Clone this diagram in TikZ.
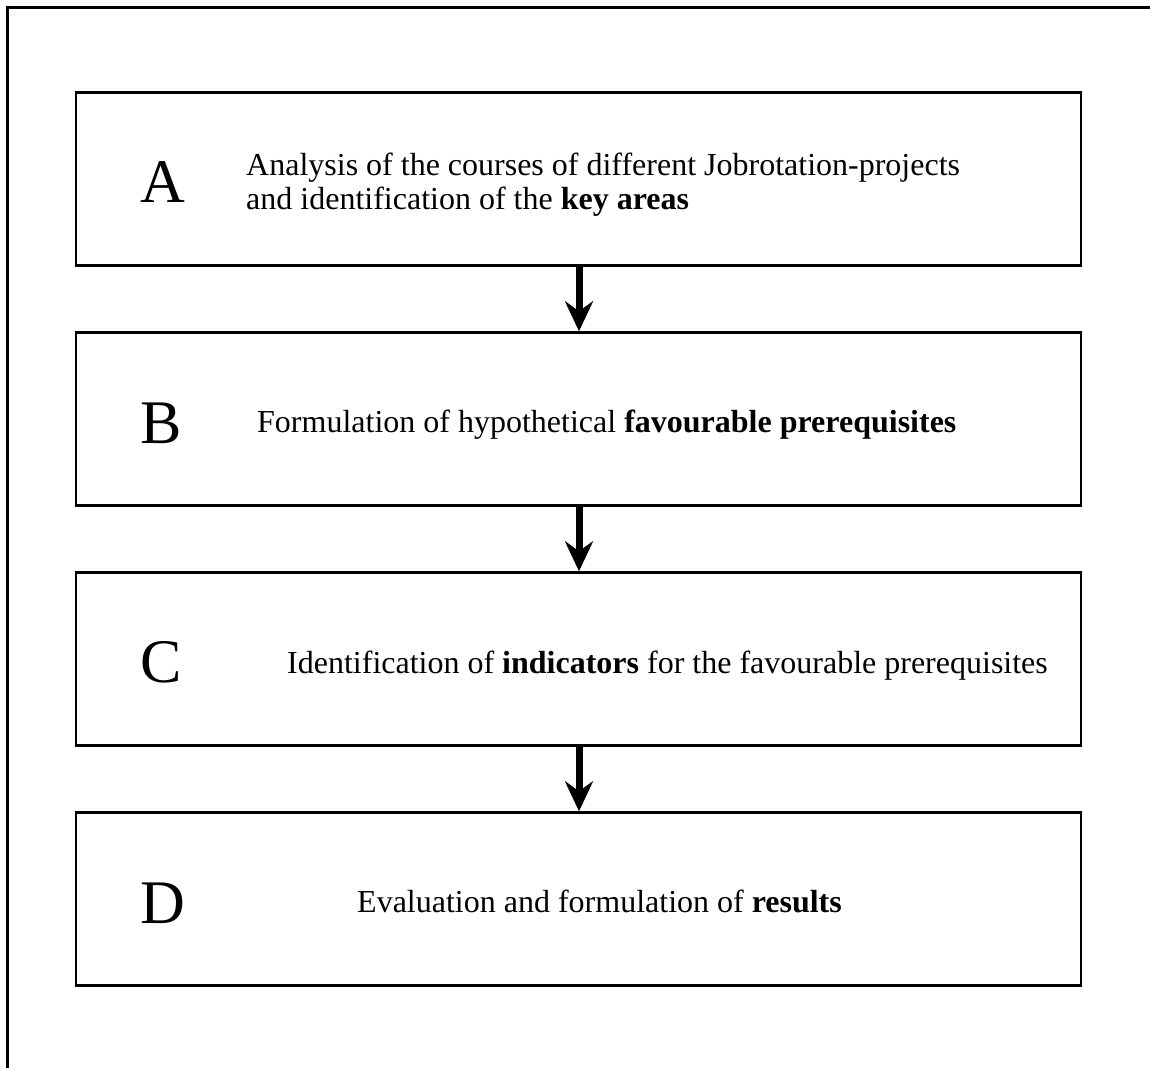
\documentclass[tikz,border=0pt]{standalone}
\usepackage{fontspec}
\setmainfont{Liberation Serif}
\usetikzlibrary{arrows.meta}
\begin{document}
\begin{tikzpicture}[x=1pt,y=-1pt,
  stage/.style={draw=black,line width=2.5pt,minimum width=1005pt,minimum height=173pt,inner sep=0pt},
  letter/.style={anchor=base west,inner sep=0pt,font=\fontsize{62}{70}\selectfont},
  body/.style={anchor=base west,inner sep=0pt,font=\fontsize{32}{34}\selectfont,align=left},
  flow/.style={line width=7pt,-{Stealth[length=30pt,width=28pt,inset=10pt]}}]
\useasboundingbox (0,0) rectangle (1150,1068);
\draw[line width=3pt] (1150,7) -- (7,7) -- (7,1068);
\node[stage] (A) at (578.5,179) {};
\node[stage] (B) at (578.5,419) {};
\node[stage] (C) at (578.5,659) {};
\node[stage] (D) at (578.5,899) {};
\node[letter] (lA) at (140,202) {A};
\node[letter] (lB) at (140,443) {B};
\node[letter] (lC) at (140,682) {C};
\node[letter] (lD) at (140,923) {D};
\node[body] (tA1) at (246,175) {Analysis of the courses of different Jobrotation-projects};
\node[body] (tA2) at (246,209) {and identification of the \textbf{key areas}};
\node[body] (tB) at (257,432) {Formulation of hypothetical \textbf{favourable prerequisites}};
\node[body] (tC) at (287,673) {Identification of \textbf{indicators} for the favourable prerequisites};
\node[body] (tD) at (357,912) {Evaluation and formulation of \textbf{results}};
\draw[flow] (A.south -| 579,0) -- (B.north -| 579,0);
\draw[flow] (B.south -| 579,0) -- (C.north -| 579,0);
\draw[flow] (C.south -| 579,0) -- (D.north -| 579,0);
\end{tikzpicture}
\end{document}
